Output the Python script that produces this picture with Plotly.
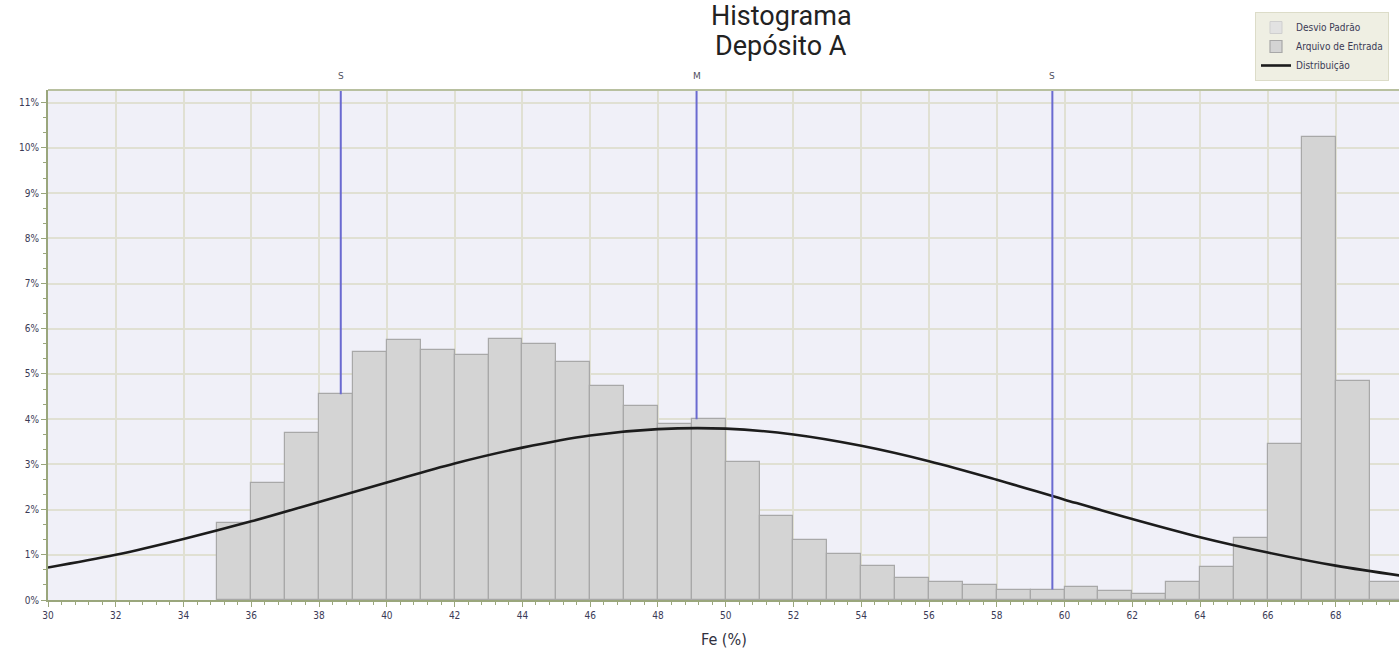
import plotly.graph_objects as go

# ---- data ----
bin_left = list(range(35, 70))
bar_pct = [1.70, 2.59, 3.70, 4.55, 5.49, 5.76, 5.53, 5.42, 5.78, 5.67,
           5.27, 4.74, 4.28, 3.90, 4.00, 3.05, 1.85, 1.33, 1.01, 0.76,
           0.49, 0.39, 0.34, 0.23, 0.23, 0.29, 0.19, 0.14, 0.40, 0.72,
           1.37, 3.44, 10.24, 4.84, 0.40]

curve_x = [30, 32, 34, 36, 38, 40, 42, 44, 46, 48, 50, 52, 54, 56, 58, 60, 62, 64, 66, 68, 70]
curve_y = [0.72, 1.00, 1.35, 1.74, 2.17, 2.60, 3.02, 3.37, 3.64, 3.78, 3.79,
           3.66, 3.41, 3.07, 2.66, 2.22, 1.79, 1.39, 1.05, 0.76, 0.53]

marker_x = [38.64, 49.14, 59.64]
marker_lbl = ["S", "M", "S"]

x_ticks = list(range(30, 70, 2))
y_ticks = list(range(0, 12))

title_lines = ["Histograma", "Depósito A"]
x_title = "Fe (%)"

# ---- layout constants ----
W, H = 1399, 650
ML, MR, MT, MB = 48, 0, 90, 50
XMIN, XMAX = 30, 69.87
YMAX = 11.28
ph = H - MT - MB
pw = W - ML - MR

def py(px):
    return (H - MB - px) / ph

def pxx(px):
    return (px - ML) / pw

TXT = "#3a3a55"
AX = "#9aa67c"
GRID = "#e0e0d3"

fig = go.Figure()

# legend-only entry for the standard deviation
fig.add_trace(go.Bar(x=[None], y=[None], name="Desvio Padrão",
                     marker=dict(color="#e2e2e2", line=dict(color="#cfcfcf", width=1))))

centers = [b + 0.5 for b in bin_left]
fig.add_trace(go.Bar(x=centers, y=bar_pct, width=[1.0] * len(centers),
                     name="Arquivo de Entrada",
                     marker=dict(color="#d4d4d4", line=dict(color="#a8a8a8", width=1.2))))

fig.add_trace(go.Scatter(x=curve_x, y=curve_y, mode="lines", name="Distribuição",
                         line=dict(color="#1c1c1c", width=2.6, shape="spline")))

# vertical S / M / S markers from bar top up to plot top
for mx, lbl in zip(marker_x, marker_lbl):
    idx = int(mx) - bin_left[0]
    top = bar_pct[idx] if 0 <= idx < len(bar_pct) else 0
    fig.add_trace(go.Scatter(x=[mx, mx], y=[top, YMAX], mode="lines",
                             line=dict(color="#6a6ad0", width=2),
                             showlegend=False, hoverinfo="skip"))
    fig.add_annotation(x=mx, xref="x", y=py(76), yref="paper", text=lbl,
                       xanchor="center", yanchor="middle",
                       showarrow=False, font=dict(size=9, color="#505060",
                                                  family="DejaVu Sans"))

# title as two lines
fig.add_annotation(x=pxx(781), xref="paper", y=py(16), yref="paper", text=title_lines[0],
                   xanchor="center", yanchor="middle",
                   showarrow=False, font=dict(size=27, color="#222222", family="Roboto"))
fig.add_annotation(x=pxx(781), xref="paper", y=py(46), yref="paper", text=title_lines[1],
                   xanchor="center", yanchor="middle",
                   showarrow=False, font=dict(size=27, color="#222222", family="Roboto"))

# x axis title
fig.add_annotation(x=pxx(724), xref="paper", y=py(639), yref="paper", text=x_title,
                   xanchor="center", yanchor="middle",
                   showarrow=False, font=dict(size=16, color="#303040",
                                              family="DejaVu Sans Condensed, DejaVu Sans"))

fig.update_layout(
    width=W, height=H,
    margin=dict(l=ML, r=MR, t=MT, b=MB, pad=0),
    paper_bgcolor="white",
    plot_bgcolor="#f0f0f8",
    bargap=0,
    showlegend=True,
    legend=dict(x=pxx(1255), y=py(12), xanchor="left", yanchor="top",
                bgcolor="#efefe3", bordercolor="#dcdcc8", borderwidth=1,
                font=dict(size=10, color=TXT, family="DejaVu Sans Condensed, DejaVu Sans"),
                traceorder="normal", itemwidth=30, tracegroupgap=0),
    font=dict(family="DejaVu Sans Condensed, DejaVu Sans", color=TXT),
)

fig.update_xaxes(
    range=[XMIN, XMAX], tickmode="array", tickvals=x_ticks,
    ticktext=[str(v) for v in x_ticks],
    showgrid=True, gridcolor=GRID, gridwidth=1.6,
    showline=True, linecolor=AX, linewidth=2, mirror=False,
    ticks="outside", ticklen=5, tickcolor=AX, tickwidth=1,
    tickfont=dict(size=10, color=TXT),
    minor=dict(dtick=0.4, ticks="outside", ticklen=3, tickcolor=AX, showgrid=False),
    zeroline=False,
)
fig.update_yaxes(
    range=[0, YMAX], tickmode="array", tickvals=y_ticks,
    ticktext=[f"{v}%" for v in y_ticks],
    showgrid=True, gridcolor=GRID, gridwidth=1.6,
    showline=True, linecolor=AX, linewidth=2, mirror=False,
    ticks="outside", ticklen=5, tickcolor=AX, tickwidth=1,
    tickfont=dict(size=10, color=TXT),
    minor=dict(dtick=1/3, ticks="outside", ticklen=3, tickcolor=AX, showgrid=False),
    zeroline=False,
)

# top border of the plot area
fig.add_shape(type="line", xref="paper", yref="paper", x0=0, x1=1, y0=1, y1=1,
              line=dict(color="#b8c0a0", width=2))

fig.write_html("out.html")
